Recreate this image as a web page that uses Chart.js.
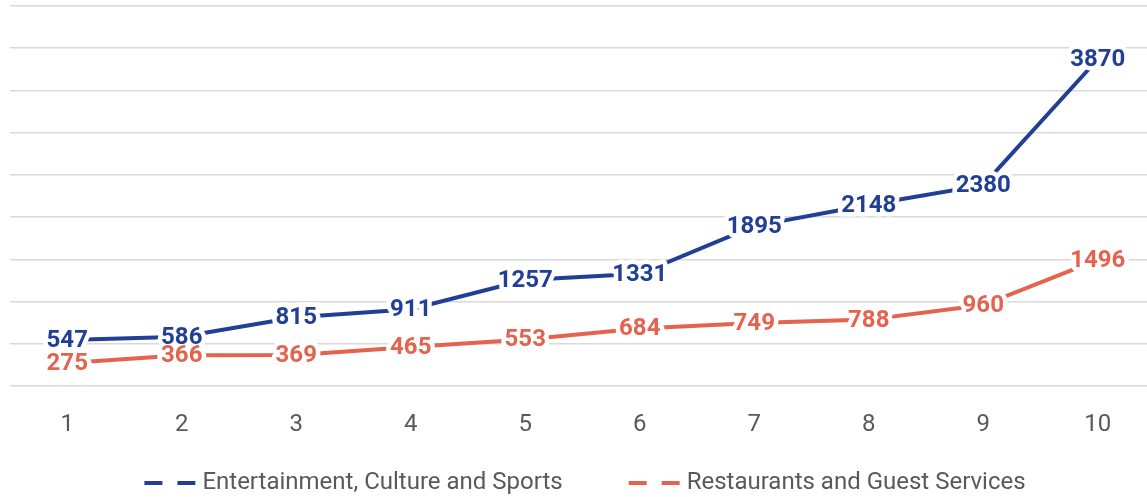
<!DOCTYPE html>
<html>
<head>
<meta charset="utf-8">
<script src="https://cdn.jsdelivr.net/npm/chart.js@4"></script>
<style>
  html, body { margin: 0; padding: 0; background: #fff; overflow: hidden; }
  #wrap { width: 1155px; height: 497px; position: relative; }
</style>
</head>
<body>
<div id="wrap"><canvas id="lineChart"></canvas></div>
<script>
const categories = ['1', '2', '3', '4', '5', '6', '7', '8', '9', '10'];
const entertainment = [547, 586, 815, 911, 1257, 1331, 1895, 2148, 2380, 3870];
const restaurants = [275, 366, 369, 465, 553, 684, 749, 788, 960, 1496];
const seriesNames = ['Entertainment, Culture and Sports', 'Restaurants and Guest Services'];

const blue = '#213f94';
const red = '#e5634e';

// value labels centred on points; white halos first, then the text
const valueLabels = {
    id: 'valueLabels',
    afterDatasetsDraw(chart) {
        const ctx = chart.ctx;
        ctx.save();
        ctx.font = 'bold 24px Roboto';
        ctx.textAlign = 'center';
        ctx.textBaseline = 'middle';
        ctx.lineJoin = 'round';
        ctx.strokeStyle = '#fff';
        ctx.lineWidth = 9;
        chart.data.datasets.forEach((ds, i) => {
            chart.getDatasetMeta(i).data.forEach((pt, j) => {
                ctx.strokeText(String(ds.data[j]), pt.x, pt.y + 1);
            });
        });
        chart.data.datasets.forEach((ds, i) => {
            ctx.fillStyle = ds.borderColor;
            chart.getDatasetMeta(i).data.forEach((pt, j) => {
                ctx.fillText(String(ds.data[j]), pt.x, pt.y + 1);
            });
        });
        ctx.restore();
    }
};

// legend with dashed line symbols, drawn under the x axis
const dashLegend = {
    id: 'dashLegend',
    afterDraw(chart) {
        const ctx = chart.ctx;
        const y = 483;
        const symW = 54, gap = 4, spacing = 66;
        ctx.save();
        ctx.font = '24px Roboto';
        ctx.textBaseline = 'middle';
        const items = chart.data.datasets.map(ds => ({
            text: ds.label, color: ds.borderColor, w: ctx.measureText(ds.label).width
        }));
        const total = items.reduce((s, it) => s + symW + gap + it.w, 0) + spacing * (items.length - 1);
        let x = 585 - total / 2;
        items.forEach(it => {
            ctx.strokeStyle = it.color;
            ctx.lineWidth = 4;
            ctx.setLineDash([18, 15]);
            ctx.beginPath();
            ctx.moveTo(x, y);
            ctx.lineTo(x + symW, y);
            ctx.stroke();
            ctx.setLineDash([]);
            ctx.fillStyle = '#595959';
            ctx.fillText(it.text, x + symW + gap, y);
            x += symW + gap + it.w + spacing;
        });
        ctx.restore();
    }
};

const ctx = document.getElementById('lineChart').getContext('2d');
new Chart(ctx, {
    type: 'line',
    data: {
        labels: categories,
        datasets: [{
            label: seriesNames[0],
            data: entertainment,
            borderColor: blue,
            backgroundColor: blue,
            borderWidth: 4,
            pointRadius: 0,
            tension: 0
        }, {
            label: seriesNames[1],
            data: restaurants,
            borderColor: red,
            backgroundColor: red,
            borderWidth: 4,
            pointRadius: 0,
            tension: 0
        }]
    },
    options: {
        responsive: true,
        maintainAspectRatio: false,
        animation: false,
        layout: { padding: { left: 10, right: 0, top: 6, bottom: 34 } },
        scales: {
            x: {
                offset: true,
                grid: { display: false, drawTicks: false },
                border: { display: false },
                ticks: { color: '#595959', font: { family: 'Roboto', size: 24 }, padding: 24 }
            },
            y: {
                min: 0,
                max: 4500,
                ticks: { display: false, stepSize: 500 },
                grid: { color: '#d9d9d9', lineWidth: 1.5, drawTicks: false },
                border: { display: false }
            }
        },
        plugins: {
            tooltip: { enabled: false },
            legend: { display: false }
        }
    },
    plugins: [valueLabels, dashLegend]
});
</script>
</body>
</html>
